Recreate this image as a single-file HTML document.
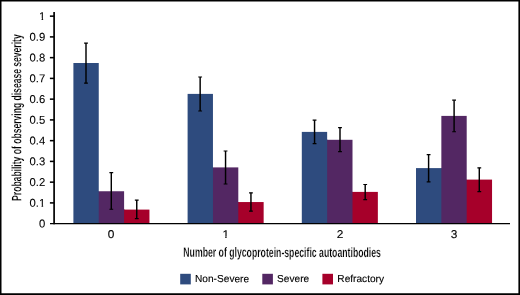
<!DOCTYPE html>
<html lang="en"><head><meta charset="utf-8"><title>Chart</title>
<style>
html,body{margin:0;padding:0;background:#fff;}
body{width:520px;height:295px;overflow:hidden;}
svg{display:block;}
text{font-family:"Liberation Sans",Arial,Helvetica,sans-serif;fill:#000;}
</style></head><body>
<svg width="520" height="295" viewBox="0 0 520 295">
<rect x="0" y="0" width="520" height="295" fill="#fff"/>
<rect x="73.40" y="63.00" width="25.35" height="160.65" fill="#2E4B7E"/>
<rect x="98" y="191.25" width="1" height="32.40" fill="#2E4B7E"/>
<rect x="98.75" y="191.25" width="25.35" height="32.40" fill="#532763"/>
<rect x="124" y="209.60" width="1" height="14.05" fill="#532763"/>
<rect x="124.10" y="209.60" width="25.35" height="14.05" fill="#A6002A"/>
<rect x="187.60" y="93.90" width="25.35" height="129.75" fill="#2E4B7E"/>
<rect x="212" y="167.40" width="1" height="56.25" fill="#2E4B7E"/>
<rect x="212.95" y="167.40" width="25.35" height="56.25" fill="#532763"/>
<rect x="238" y="202.05" width="1" height="21.60" fill="#532763"/>
<rect x="238.30" y="202.05" width="25.35" height="21.60" fill="#A6002A"/>
<rect x="301.80" y="131.90" width="25.35" height="91.75" fill="#2E4B7E"/>
<rect x="327" y="139.80" width="1" height="83.85" fill="#2E4B7E"/>
<rect x="327.15" y="139.80" width="25.35" height="83.85" fill="#532763"/>
<rect x="352" y="191.90" width="1" height="31.75" fill="#532763"/>
<rect x="352.50" y="191.90" width="25.35" height="31.75" fill="#A6002A"/>
<rect x="416.00" y="168.10" width="25.35" height="55.55" fill="#2E4B7E"/>
<rect x="441" y="168.10" width="1" height="55.55" fill="#2E4B7E"/>
<rect x="441.35" y="115.90" width="25.35" height="107.75" fill="#532763"/>
<rect x="466" y="179.60" width="1" height="44.05" fill="#532763"/>
<rect x="466.70" y="179.60" width="25.35" height="44.05" fill="#A6002A"/>
<path d="M86.00 43.05V83.20" stroke="#000" stroke-width="1.45" fill="none"/><path d="M84.10 43.05H87.90M84.10 83.20H87.90" stroke="#000" stroke-width="1.2" fill="none"/>
<path d="M111.30 172.70V209.25" stroke="#000" stroke-width="1.45" fill="none"/><path d="M109.40 172.70H113.20M109.40 209.25H113.20" stroke="#000" stroke-width="1.2" fill="none"/>
<path d="M136.75 200.10V218.70" stroke="#000" stroke-width="1.45" fill="none"/><path d="M134.85 200.10H138.65M134.85 218.70H138.65" stroke="#000" stroke-width="1.2" fill="none"/>
<path d="M200.15 77.00V111.00" stroke="#000" stroke-width="1.45" fill="none"/><path d="M198.25 77.00H202.05M198.25 111.00H202.05" stroke="#000" stroke-width="1.2" fill="none"/>
<path d="M225.55 151.00V184.00" stroke="#000" stroke-width="1.45" fill="none"/><path d="M223.65 151.00H227.45M223.65 184.00H227.45" stroke="#000" stroke-width="1.2" fill="none"/>
<path d="M250.95 192.85V211.15" stroke="#000" stroke-width="1.45" fill="none"/><path d="M249.05 192.85H252.85M249.05 211.15H252.85" stroke="#000" stroke-width="1.2" fill="none"/>
<path d="M314.55 120.10V143.60" stroke="#000" stroke-width="1.45" fill="none"/><path d="M312.65 120.10H316.45M312.65 143.60H316.45" stroke="#000" stroke-width="1.2" fill="none"/>
<path d="M340.00 127.60V151.70" stroke="#000" stroke-width="1.45" fill="none"/><path d="M338.10 127.60H341.90M338.10 151.70H341.90" stroke="#000" stroke-width="1.2" fill="none"/>
<path d="M365.20 184.50V199.60" stroke="#000" stroke-width="1.45" fill="none"/><path d="M363.30 184.50H367.10M363.30 199.60H367.10" stroke="#000" stroke-width="1.2" fill="none"/>
<path d="M428.60 154.60V181.90" stroke="#000" stroke-width="1.45" fill="none"/><path d="M426.70 154.60H430.50M426.70 181.90H430.50" stroke="#000" stroke-width="1.2" fill="none"/>
<path d="M454.10 100.20V131.75" stroke="#000" stroke-width="1.45" fill="none"/><path d="M452.20 100.20H456.00M452.20 131.75H456.00" stroke="#000" stroke-width="1.2" fill="none"/>
<path d="M479.30 167.80V191.70" stroke="#000" stroke-width="1.45" fill="none"/><path d="M477.40 167.80H481.20M477.40 191.70H481.20" stroke="#000" stroke-width="1.2" fill="none"/>
<path d="M54.10 11.9V224.20" stroke="#000" stroke-width="1.7" fill="none"/>
<path d="M50.0 223.65H510" stroke="#000" stroke-width="1.4" fill="none"/>
<path d="M49.9 202.90H54.10" stroke="#000" stroke-width="1.55" fill="none"/>
<path d="M49.9 182.15H54.10" stroke="#000" stroke-width="1.55" fill="none"/>
<path d="M49.9 161.40H54.10" stroke="#000" stroke-width="1.55" fill="none"/>
<path d="M49.9 140.65H54.10" stroke="#000" stroke-width="1.55" fill="none"/>
<path d="M49.9 119.90H54.10" stroke="#000" stroke-width="1.55" fill="none"/>
<path d="M49.9 99.15H54.10" stroke="#000" stroke-width="1.55" fill="none"/>
<path d="M49.9 78.40H54.10" stroke="#000" stroke-width="1.55" fill="none"/>
<path d="M49.9 57.65H54.10" stroke="#000" stroke-width="1.55" fill="none"/>
<path d="M49.9 36.90H54.10" stroke="#000" stroke-width="1.55" fill="none"/>
<path d="M49.9 16.15H54.10" stroke="#000" stroke-width="1.55" fill="none"/>
<text transform="translate(45.2 227.50) rotate(0.04)" font-size="11.3" text-anchor="end" stroke="#000" stroke-width="0.08">0</text>
<text transform="translate(45.2 206.75) rotate(0.04)" font-size="11.3" text-anchor="end" stroke="#000" stroke-width="0.08">0.1</text>
<text transform="translate(45.2 186.00) rotate(0.04)" font-size="11.3" text-anchor="end" stroke="#000" stroke-width="0.08">0.2</text>
<text transform="translate(45.2 165.25) rotate(0.04)" font-size="11.3" text-anchor="end" stroke="#000" stroke-width="0.08">0.3</text>
<text transform="translate(45.2 144.50) rotate(0.04)" font-size="11.3" text-anchor="end" stroke="#000" stroke-width="0.08">0.4</text>
<text transform="translate(45.2 123.75) rotate(0.04)" font-size="11.3" text-anchor="end" stroke="#000" stroke-width="0.08">0.5</text>
<text transform="translate(45.2 103.00) rotate(0.04)" font-size="11.3" text-anchor="end" stroke="#000" stroke-width="0.08">0.6</text>
<text transform="translate(45.2 82.25) rotate(0.04)" font-size="11.3" text-anchor="end" stroke="#000" stroke-width="0.08">0.7</text>
<text transform="translate(45.2 61.50) rotate(0.04)" font-size="11.3" text-anchor="end" stroke="#000" stroke-width="0.08">0.8</text>
<text transform="translate(45.2 40.75) rotate(0.04)" font-size="11.3" text-anchor="end" stroke="#000" stroke-width="0.08">0.9</text>
<text transform="translate(45.2 20.00) rotate(0.04)" font-size="11.3" text-anchor="end" stroke="#000" stroke-width="0.08">1</text>
<text transform="translate(111.03 237.95) rotate(0.04) scale(1.05 1)" font-size="11.3" text-anchor="middle" stroke="#000" stroke-width="0.12">0</text>
<text transform="translate(225.72 237.95) rotate(0.04) scale(1.05 1)" font-size="11.3" text-anchor="middle" stroke="#000" stroke-width="0.12">1</text>
<text transform="translate(339.93 237.95) rotate(0.04) scale(1.05 1)" font-size="11.3" text-anchor="middle" stroke="#000" stroke-width="0.12">2</text>
<text transform="translate(454.12 237.95) rotate(0.04) scale(1.05 1)" font-size="11.3" text-anchor="middle" stroke="#000" stroke-width="0.12">3</text>
<path d="M38.5 18.05h3.05v2.6h-3.05zM43.15 18.05h3.2v2.6h-3.2z" fill="#fff"/>
<path d="M38.5 204.80h3.05v2.6h-3.05zM43.15 204.80h3.2v2.6h-3.2z" fill="#fff"/>
<path d="M222 236.2h3.2v2.5h-3.2zM226.65 236.2h3.5v2.5h-3.5z" fill="#fff"/>
<text transform="translate(282.1 256.9) rotate(0.04) scale(0.640 1)" font-size="13.6" font-weight="bold" text-anchor="middle" stroke="#fff" stroke-width="0.2">Number of glycoprotein-specific autoantibodies</text>
<text transform="translate(21.3 117.6) rotate(-90.04) scale(0.630 1)" font-size="13.6" font-weight="bold" text-anchor="middle" stroke="#fff" stroke-width="0.2">Probability of observing disease severity</text>
<rect x="180.2" y="273.8" width="10.6" height="10.6" fill="#2E4B7E"/>
<text transform="translate(195.05 282.1) rotate(0.04)" font-size="10.15" stroke="#000" stroke-width="0.12">Non-Severe</text>
<rect x="262.3" y="273.8" width="10.6" height="10.6" fill="#532763"/>
<text transform="translate(277.05 282.1) rotate(0.04)" font-size="10.15" stroke="#000" stroke-width="0.12">Severe</text>
<rect x="322.4" y="273.8" width="10.6" height="10.6" fill="#A6002A"/>
<text transform="translate(337.35 282.1) rotate(0.04)" font-size="10.15" stroke="#000" stroke-width="0.12">Refractory</text>
<path d="M0 0H520V295H0Z M1.5 1.5V293.2H518.4V1.5Z" fill="#000" fill-rule="evenodd"/>
</svg>
</body></html>
